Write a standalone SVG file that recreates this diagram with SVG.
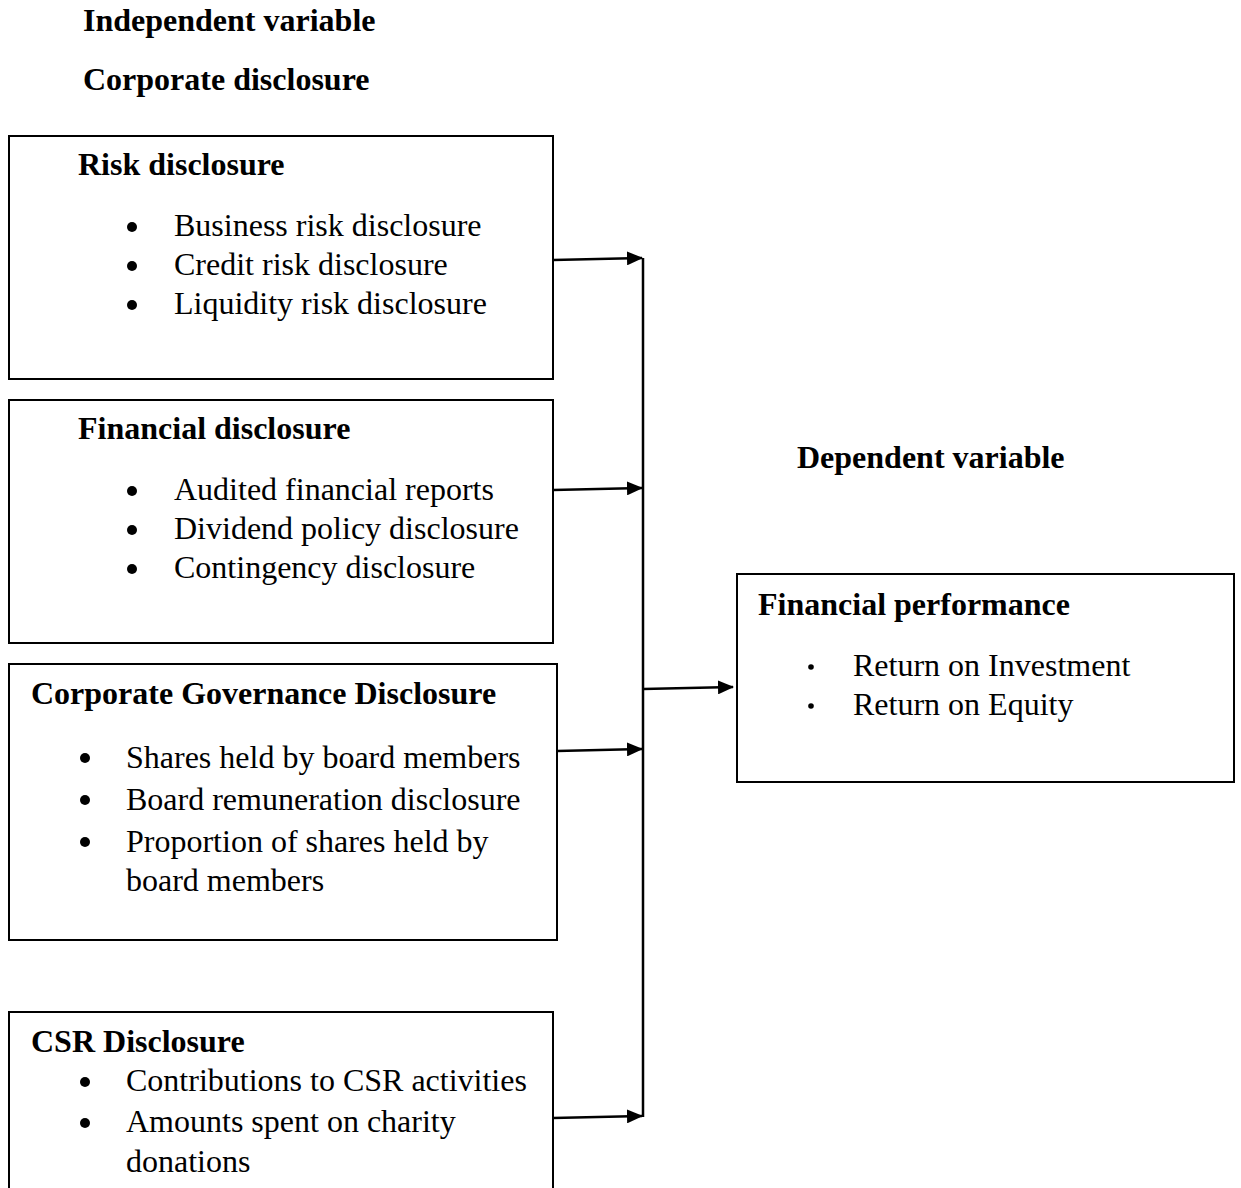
<svg xmlns="http://www.w3.org/2000/svg" width="1241" height="1188" viewBox="0 0 1241 1188">
<defs>
<style>
.box{fill:#fff;stroke:#000;stroke-width:2}
.h{font-family:"Liberation Serif","Times New Roman",serif;font-weight:bold;font-size:32px;fill:#000}
.t{font-family:"Liberation Serif","Times New Roman",serif;font-size:32px;fill:#000}
.dot{fill:#000}
.con{stroke:#000;stroke-width:2.5;fill:none}
</style>
<marker id="arr" markerWidth="16" markerHeight="14" refX="15" refY="7" orient="auto" markerUnits="userSpaceOnUse">
<path d="M0,0 L16,7 L0,14 Z" fill="#000"/>
</marker>
</defs>
<rect width="1241" height="1188" fill="#fff"/>
<text class="h" x="83" y="31">Independent variable</text>
<text class="h" x="83" y="90">Corporate disclosure</text>
<text class="h" x="797" y="468">Dependent variable</text>

<g id="risk">
<rect class="box" x="9" y="136" width="544" height="243"/>
<text class="h" x="78" y="175">Risk disclosure</text>
<circle class="dot" cx="132" cy="227" r="5"/>
<circle class="dot" cx="132" cy="266" r="5"/>
<circle class="dot" cx="132" cy="305" r="5"/>
<text class="t" x="174" y="236">Business risk disclosure</text>
<text class="t" x="174" y="275">Credit risk disclosure</text>
<text class="t" x="174" y="314">Liquidity risk disclosure</text>
</g>

<g id="financial">
<rect class="box" x="9" y="400" width="544" height="243"/>
<text class="h" x="78" y="439">Financial disclosure</text>
<circle class="dot" cx="132" cy="491" r="5"/>
<circle class="dot" cx="132" cy="530" r="5"/>
<circle class="dot" cx="132" cy="569" r="5"/>
<text class="t" x="174" y="500">Audited financial reports</text>
<text class="t" x="174" y="539">Dividend policy disclosure</text>
<text class="t" x="174" y="578">Contingency disclosure</text>
</g>

<g id="governance">
<rect class="box" x="9" y="664" width="548" height="276"/>
<text class="h" x="31" y="704">Corporate Governance Disclosure</text>
<circle class="dot" cx="85" cy="758" r="5"/>
<circle class="dot" cx="85" cy="800" r="5"/>
<circle class="dot" cx="85" cy="842" r="5"/>
<text class="t" x="126" y="768">Shares held by board members</text>
<text class="t" x="126" y="810">Board remuneration disclosure</text>
<text class="t" x="126" y="852">Proportion of shares held by</text>
<text class="t" x="126" y="891">board members</text>
</g>

<g id="csr">
<rect class="box" x="9" y="1012" width="544" height="200"/>
<text class="h" x="31" y="1052">CSR Disclosure</text>
<circle class="dot" cx="85" cy="1082" r="5"/>
<circle class="dot" cx="85" cy="1123" r="5"/>
<text class="t" x="126" y="1091">Contributions to CSR activities</text>
<text class="t" x="126" y="1132">Amounts spent on charity</text>
<text class="t" x="126" y="1172">donations</text>
</g>

<g id="performance">
<rect class="box" x="737" y="574" width="497" height="208"/>
<text class="h" x="758" y="615">Financial performance</text>
<circle class="dot" cx="811" cy="667" r="2.8"/>
<circle class="dot" cx="811" cy="706" r="2.8"/>
<text class="t" x="853" y="676">Return on Investment</text>
<text class="t" x="853" y="715">Return on Equity</text>
</g>

<g id="connectors">
<line class="con" x1="643" y1="258" x2="643" y2="1117"/>
<line class="con" x1="553" y1="260" x2="642" y2="258" marker-end="url(#arr)"/>
<line class="con" x1="553" y1="490" x2="642" y2="488" marker-end="url(#arr)"/>
<line class="con" x1="557" y1="751" x2="642" y2="749" marker-end="url(#arr)"/>
<line class="con" x1="553" y1="1118" x2="642" y2="1116" marker-end="url(#arr)"/>
<line class="con" x1="643" y1="689" x2="733" y2="687" marker-end="url(#arr)"/>
</g>
</svg>
